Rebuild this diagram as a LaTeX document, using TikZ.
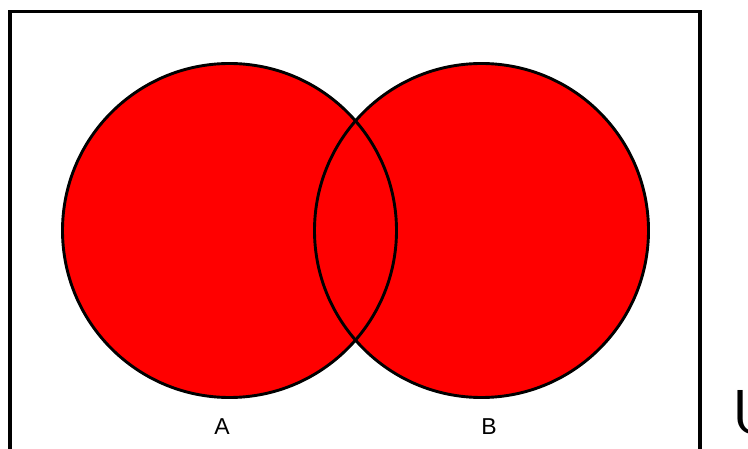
\documentclass[tikz,border=0pt]{standalone}
\usepackage{fontspec}
\setmainfont{Liberation Sans}
\usepackage{xcolor}
\definecolor{setRed}{HTML}{FF0000}
\definecolor{lineBlack}{HTML}{000000}
\usepackage{tikz}
\usetikzlibrary{positioning}
\tikzset{
  setfill/.style={
    fill=setRed
  },
  setline/.style={
    draw=lineBlack,
    line width=2.9pt
  },
  universe/.style={
    draw=lineBlack,
    line width=3.8pt
  },
  setlabel/.style={
    font=\fontsize{23}{26}\selectfont,
    inner sep=0pt
  },
  handmark/.style={
    font=\fontsize{62}{64}\selectfont\sffamily,
    inner sep=0pt,
    anchor=south west
  }
}

\begin{document}
\begin{tikzpicture}[x=1pt,y=-1pt]
  \useasboundingbox (0,0) rectangle (748,449);
  \clip (0,0) rectangle (748,449);
  \fill[white] (0,0) rectangle (748,449);
  % universe frame
  \draw[universe] (10,11.5) rectangle (700,470);
  % the two sets
  \coordinate (cA) at (229.5,230.5);
  \coordinate (cB) at (481.5,230.5);
  \fill[setfill] (cA) circle (167);
  \fill[setfill] (cB) circle (167);
  \draw[setline] (cA) circle (167);
  \draw[setline] (cB) circle (167);
  \node[setlabel] (labA) at (222,427) {A};
  \node[setlabel] (labB) at (489,427) {B};
  \node[handmark] (mark) at (732,435) {U};
\end{tikzpicture}
\end{document}
